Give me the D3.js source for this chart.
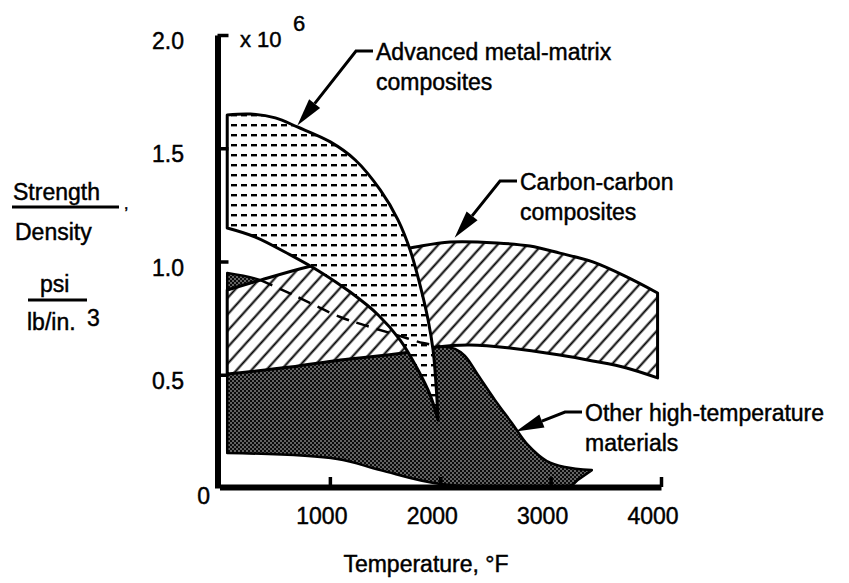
<!DOCTYPE html>
<html>
<head>
<meta charset="utf-8">
<script src="https://cdn.jsdelivr.net/npm/d3@7"></script>
<style>
  body { margin: 0; background: #fff; }
  text { font-family: "Liberation Sans", Arial, Helvetica, sans-serif; fill: #000; stroke: #000; stroke-width: 0.45px; }
  .axis .domain { stroke: #000; stroke-width: 6px; }
  .axis .tick line { stroke: #000; stroke-width: 3.5px; }
</style>
</head>
<body>
<div id="chart"></div>
<script>
// [temperature F, strength/density x 10^6 (psi per lb/in.3)]
var metalTop = [[70,1.647],[280,1.651],[506,1.634],[705,1.594],[1004,1.528],[1230,1.448],[1456,1.316],
  [1618,1.183],[1727,1.051],[1817,0.896],[1890,0.742],[1935,0.609],[1962,0.455],[1980,0.300]];
var metalBottom = [[70,1.148],[325,1.108],[642,1.029],[913,0.954],[1184,0.865],[1438,0.764],
  [1637,0.653],[1799,0.521],[1908,0.411],[1980,0.300]];
var carbonTop = [[70,0.874],[371,0.918],[796,0.976],[1184,1.015],[1727,1.060],[2089,1.086],[2514,1.082],
  [2812,1.068],[3083,1.037],[3382,0.998],[3689,0.932],[3969,0.861]];
var carbonBottom = [[70,0.503],[642,0.534],[1094,0.565],[1664,0.596],[1971,0.623],[2269,0.631],
  [2631,0.618],[3083,0.587],[3382,0.561],[3689,0.530],[3969,0.486]];
var otherTop = [[70,0.949],[371,0.918],[669,0.852],[1094,0.755],[1365,0.711],[1609,0.675],[1844,0.640],
  [2000,0.627],[2134,0.614],[2224,0.583],[2342,0.499],[2495,0.389],[2649,0.287],[2794,0.190],
  [2966,0.119],[3128,0.093],[3373,0.079]];
var otherBottom = [[70,0.155],[1067,0.128],[1456,0.079],[2000,0.018],[3174,0.010],[3246,0.035]];

var xTicks = [1000, 2000, 3000, 4000];
var yTicks = [0, 0.5, 1.0, 1.5, 2.0];
var yTickLabels = ["0", "0.5", "1.0", "1.5", "2.0"];

var notes = [
  { lines: ["Advanced metal-matrix", "composites"], x: 376, y: 60, tip: [705, 1.60] },
  { lines: ["Carbon-carbon", "composites"], x: 520, y: 190, tip: [2130, 1.105] },
  { lines: ["Other high-temperature", "materials"], x: 585, y: 421, tip: [2685, 0.25] }
];

var width = 849, height = 583;

var svg = d3.select("#chart").append("svg")
  .attr("width", width)
  .attr("height", height);

var x = d3.scaleLinear().domain([0, 4000]).range([219.5, 661]);
var y = d3.scaleLinear().domain([0, 2]).range([488, 35]);

var defs = svg.append("defs");

// short horizontal dashes
var pDash = defs.append("pattern").attr("id", "dash")
  .attr("patternUnits", "userSpaceOnUse").attr("width", 10).attr("height", 10);
pDash.append("rect").attr("width", 10).attr("height", 10).attr("fill", "#fff");
pDash.append("rect").attr("x", 1).attr("y", 4).attr("width", 6).attr("height", 2.4).attr("fill", "#000");

// diagonal hatch
var pHatch = defs.append("pattern").attr("id", "hatch")
  .attr("patternUnits", "userSpaceOnUse").attr("width", 11).attr("height", 11)
  .attr("patternTransform", "rotate(-48)");
pHatch.append("rect").attr("width", 11).attr("height", 11).attr("fill", "#fff");
pHatch.append("line").attr("x1", 0).attr("x2", 11).attr("y1", 5.5).attr("y2", 5.5)
  .attr("stroke", "#000").attr("stroke-width", 2);

// dark stipple
var pStip = defs.append("pattern").attr("id", "stip")
  .attr("patternUnits", "userSpaceOnUse").attr("width", 4).attr("height", 4);
pStip.append("rect").attr("width", 4).attr("height", 4).attr("fill", "#0a0a0a");
pStip.append("circle").attr("cx", 1).attr("cy", 1).attr("r", 0.7).attr("fill", "#fff");
pStip.append("circle").attr("cx", 3).attr("cy", 3).attr("r", 0.7).attr("fill", "#fff");

var line = d3.line()
  .x(d => x(d[0]))
  .y(d => y(d[1]))
  .curve(d3.curveCatmullRom.alpha(0.5));

function band(top, bottom) {
  return line(top) + "L" + line(bottom.slice().reverse()).slice(1) + "Z";
}

// other high-temperature materials
svg.append("path")
  .attr("d", band(otherTop, otherBottom))
  .attr("fill", "url(#stip)")
  .attr("stroke", "#000")
  .attr("stroke-width", 2.5)
  .attr("stroke-linejoin", "round");

// carbon-carbon
svg.append("path")
  .attr("d", band(carbonTop, carbonBottom))
  .attr("fill", "url(#hatch)")
  .attr("stroke", "#000")
  .attr("stroke-width", 3)
  .attr("stroke-linejoin", "round");

// metal-matrix
svg.append("path")
  .attr("d", band(metalTop, metalBottom))
  .attr("fill", "url(#dash)")
  .attr("stroke", "#000")
  .attr("stroke-width", 3)
  .attr("stroke-linejoin", "round");

// hidden top of other materials
svg.append("path")
  .attr("d", line(otherTop.filter(d => d[0] >= 371 && d[0] <= 2000)))
  .attr("fill", "none")
  .attr("stroke", "#000")
  .attr("stroke-width", 2.5)
  .attr("stroke-dasharray", "13,8");

// axes
svg.append("g")
  .attr("class", "axis")
  .attr("transform", "translate(" + (x(0) - 2) + ",0)")
  .call(d3.axisRight(y).tickValues([0.5, 1, 1.5, 2]).tickSize(11).tickSizeOuter(0).tickFormat(""));

svg.append("g")
  .attr("class", "axis")
  .attr("transform", "translate(0," + (y(0) - 1) + ")")
  .call(d3.axisTop(x).tickValues(xTicks).tickSize(10).tickSizeOuter(0).tickFormat(""));

svg.selectAll(".ylab")
  .data(yTicks)
  .enter().append("text")
  .attr("class", "ylab")
  .attr("x", d => d === 0 ? 210 : 184)
  .attr("y", d => y(d) + (d === 0 ? 16 : 14))
  .attr("text-anchor", "end")
  .style("font-size", "23px")
  .text((d, i) => yTickLabels[i]);

svg.selectAll(".xlab")
  .data(xTicks)
  .enter().append("text")
  .attr("class", "xlab")
  .attr("x", d => x(d) - 8)
  .attr("y", 524)
  .attr("text-anchor", "middle")
  .style("font-size", "23px")
  .text(d => d);

svg.append("text").attr("x", 240).attr("y", 47).style("font-size", "22px").text("x 10");
svg.append("text").attr("x", 293).attr("y", 31).style("font-size", "22px").text("6");

svg.append("text").attr("x", 426).attr("y", 572).attr("text-anchor", "middle")
  .style("font-size", "23px").text("Temperature, °F");

// y title
svg.append("text").attr("x", 13).attr("y", 200).style("font-size", "23px").text("Strength");
svg.append("line").attr("x1", 12).attr("x2", 119).attr("y1", 207).attr("y2", 207)
  .attr("stroke", "#000").attr("stroke-width", 3);
svg.append("text").attr("x", 124).attr("y", 209).style("font-size", "16px").text(",");
svg.append("text").attr("x", 15).attr("y", 240).style("font-size", "23px").text("Density");
svg.append("text").attr("x", 40).attr("y", 292).style("font-size", "23px").text("psi");
svg.append("line").attr("x1", 28).attr("x2", 87).attr("y1", 300).attr("y2", 300)
  .attr("stroke", "#000").attr("stroke-width", 3);
svg.append("text").attr("x", 27).attr("y", 330).style("font-size", "23px").text("lb/in.");
svg.append("text").attr("x", 87).attr("y", 326).style("font-size", "23px").text("3");

// annotations with arrows
function arrowHead(x1, y1, x2, y2, len, hw) {
  var dx = x2 - x1, dy = y2 - y1, d = Math.hypot(dx, dy), ux = dx / d, uy = dy / d;
  var bx = x2 - ux * len, by = y2 - uy * len;
  return { base: [bx, by], pts: [[x2, y2], [bx - uy * hw, by + ux * hw], [bx + uy * hw, by - ux * hw]] };
}

notes.forEach(function(n) {
  var t = svg.append("text").attr("x", n.x).attr("y", n.y).style("font-size", "23px");
  n.lines.forEach(function(s, i) {
    t.append("tspan").attr("x", n.x).attr("dy", i === 0 ? 0 : 30).text(s);
  });
  var sx = n.x - 3, sy = n.y - 9, bx = n.x - 20;
  var tx = x(n.tip[0]), ty = y(n.tip[1]);
  var h = arrowHead(bx, sy, tx, ty, 28, 7);
  svg.append("path")
    .attr("d", "M" + sx + "," + sy + "L" + bx + "," + sy + "L" + h.base[0] + "," + h.base[1])
    .attr("fill", "none").attr("stroke", "#000").attr("stroke-width", 3);
  svg.append("path")
    .attr("d", "M" + h.pts.join("L") + "Z")
    .attr("fill", "#000");
});
</script>
</body>
</html>
